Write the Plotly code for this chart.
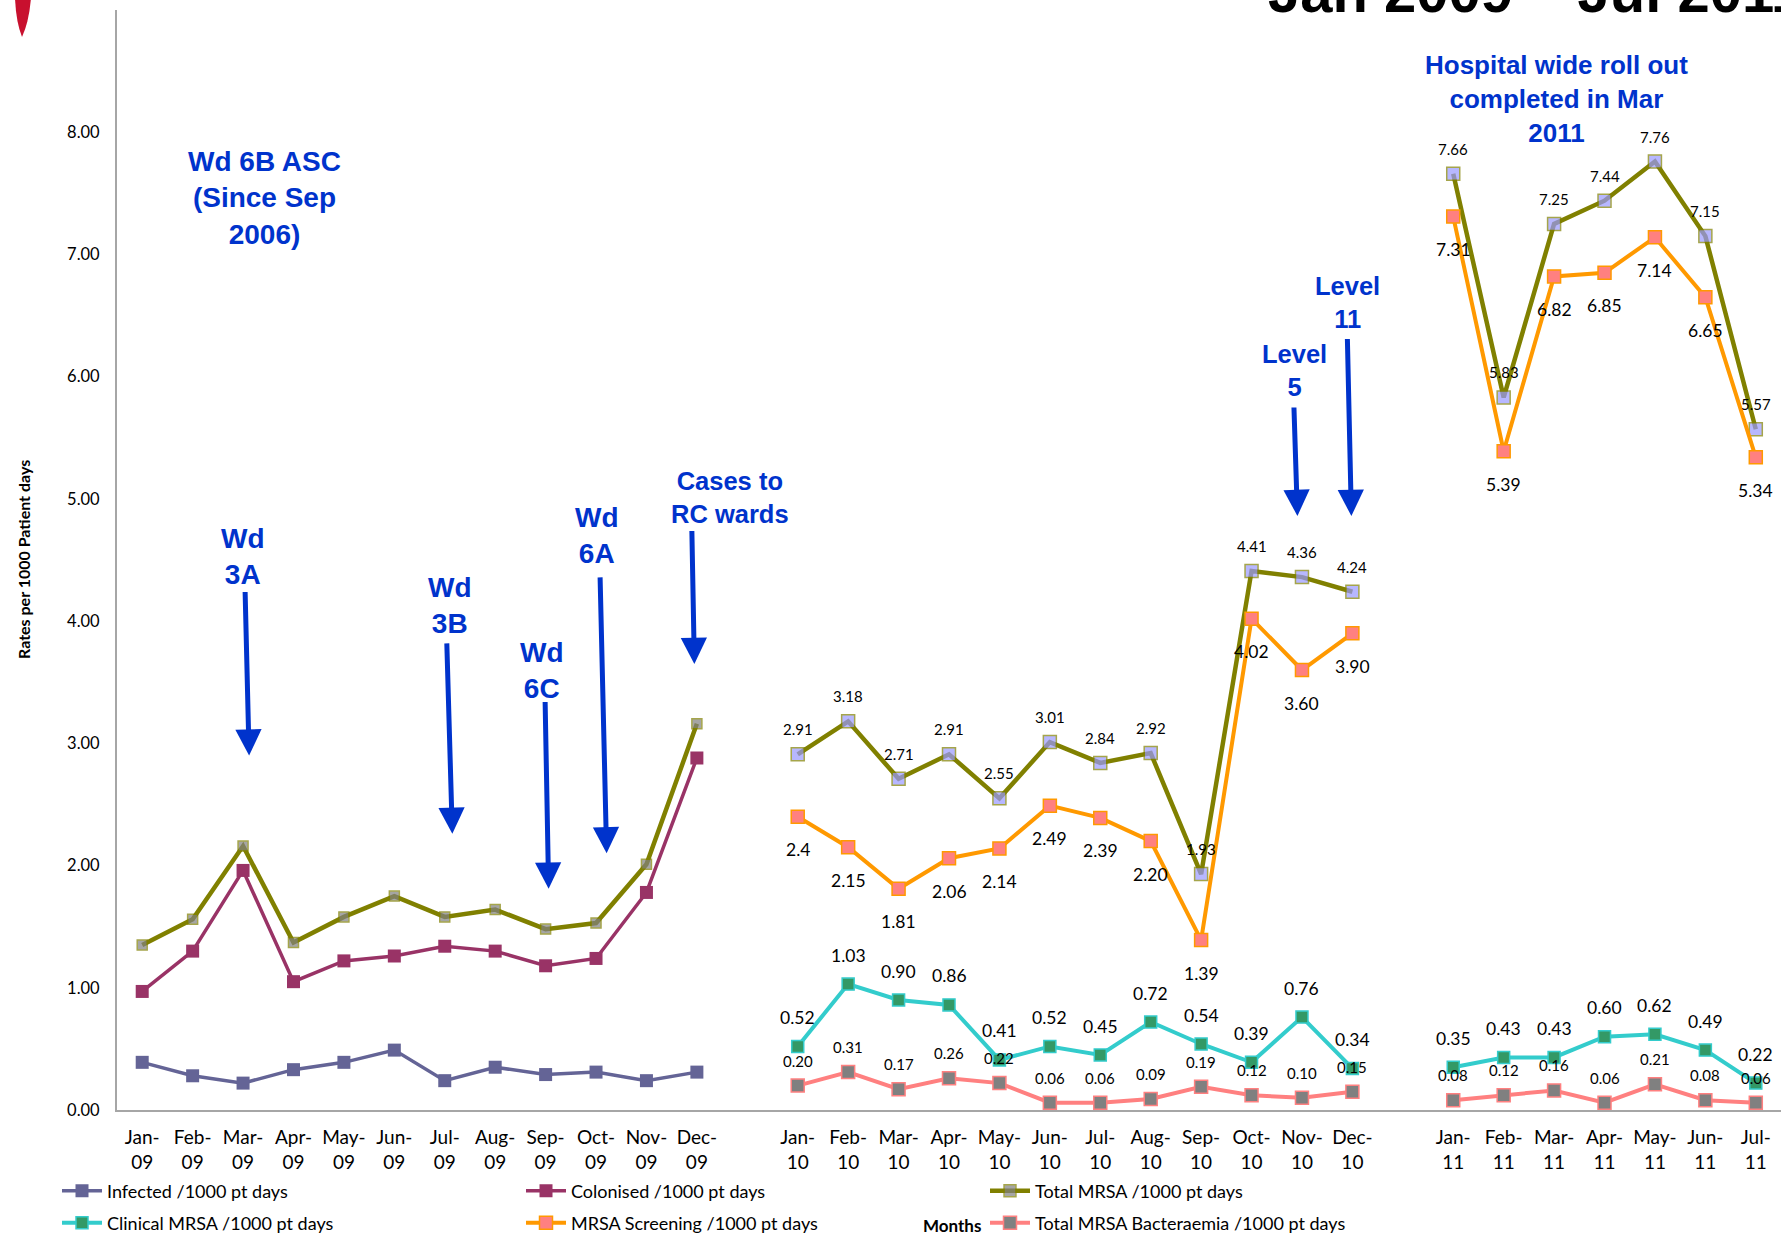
import plotly.graph_objects as go

# ---------------- data ----------------
months_2009 = ["Jan-09", "Feb-09", "Mar-09", "Apr-09", "May-09", "Jun-09",
               "Jul-09", "Aug-09", "Sep-09", "Oct-09", "Nov-09", "Dec-09"]
months_2010 = ["Jan-10", "Feb-10", "Mar-10", "Apr-10", "May-10", "Jun-10",
               "Jul-10", "Aug-10", "Sep-10", "Oct-10", "Nov-10", "Dec-10"]
months_2011 = ["Jan-11", "Feb-11", "Mar-11", "Apr-11", "May-11", "Jun-11", "Jul-11"]

infected_2009 = [0.39, 0.28, 0.22, 0.33, 0.39, 0.49, 0.24, 0.35, 0.29, 0.31, 0.24, 0.31]
colonised_2009 = [0.97, 1.30, 1.96, 1.05, 1.22, 1.26, 1.34, 1.30, 1.18, 1.24, 1.78, 2.88]
total_2009 = [1.35, 1.56, 2.16, 1.37, 1.58, 1.75, 1.58, 1.64, 1.48, 1.53, 2.01, 3.16]
total_2010 = [2.91, 3.18, 2.71, 2.91, 2.55, 3.01, 2.84, 2.92, 1.93, 4.41, 4.36, 4.24]
total_2011 = [7.66, 5.83, 7.25, 7.44, 7.76, 7.15, 5.57]
screening_2010 = [2.40, 2.15, 1.81, 2.06, 2.14, 2.49, 2.39, 2.20, 1.39, 4.02, 3.60, 3.90]
screening_2011 = [7.31, 5.39, 6.82, 6.85, 7.14, 6.65, 5.34]
clinical_2010 = [0.52, 1.03, 0.90, 0.86, 0.41, 0.52, 0.45, 0.72, 0.54, 0.39, 0.76, 0.34]
clinical_2011 = [0.35, 0.43, 0.43, 0.60, 0.62, 0.49, 0.22]
bact_2010 = [0.20, 0.31, 0.17, 0.26, 0.22, 0.06, 0.06, 0.09, 0.19, 0.12, 0.10, 0.15]
bact_2011 = [0.08, 0.12, 0.16, 0.06, 0.21, 0.08, 0.06]

label_overrides = {("screening", "Jan-10"): "2.4"}

# ---------------- helpers ----------------
categories = months_2009 + [""] + months_2010 + [""] + months_2011
xpos = list(range(len(categories)))


def span(v09=None, v10=None, v11=None):
    out = []
    out += list(v09) if v09 else [None] * len(months_2009)
    out.append(None)
    out += list(v10) if v10 else [None] * len(months_2010)
    out.append(None)
    out += list(v11) if v11 else [None] * len(months_2011)
    return out


infected = span(infected_2009)
colonised = span(colonised_2009)
total = span(total_2009, total_2010, total_2011)
clinical = span(None, clinical_2010, clinical_2011)
screening = span(None, screening_2010, screening_2011)
bact = span(None, bact_2010, bact_2011)

n09 = len(months_2009)
total_mcolor = ["#808080" if i < n09 else "#9999FF" for i in xpos]
total_msize = [10 if i < n09 else 13 for i in xpos]

FONT = "Lato, 'Open Sans', sans-serif"
BLUE = "#0033CC"


def px(xp):
    return (xp - 117) / 1664


def py(yp):
    return (1110 - yp) / 1100


fig = go.Figure()

fig.add_trace(go.Scatter(
    x=xpos, y=infected, name="Infected /1000 pt days", mode="lines+markers",
    legend="legend",
    line=dict(color="#646496", width=3.5),
    marker=dict(symbol="square", size=13, color="#646496")))
fig.add_trace(go.Scatter(
    x=xpos, y=colonised, name="Colonised /1000 pt days", mode="lines+markers",
    legend="legend",
    line=dict(color="#993366", width=3.5),
    marker=dict(symbol="square", size=13, color="#993366")))
fig.add_trace(go.Scatter(
    x=xpos, y=total, name="Total MRSA /1000 pt days", mode="lines+markers",
    legend="legend",
    line=dict(color="#808000", width=4.5),
    marker=dict(symbol="square", size=total_msize, color=total_mcolor,
                line=dict(color="#808000", width=1.5))))
fig.add_trace(go.Scatter(
    x=xpos, y=clinical, name="Clinical MRSA /1000 pt days", mode="lines+markers",
    legend="legend2",
    line=dict(color="#33CCCC", width=4),
    marker=dict(symbol="square", size=12, color="#339966",
                line=dict(color="#33CCCC", width=1.5))))
fig.add_trace(go.Scatter(
    x=xpos, y=screening, name="MRSA Screening /1000 pt days", mode="lines+markers",
    legend="legend2",
    line=dict(color="#FF9900", width=4),
    marker=dict(symbol="square", size=13, color="#FF8080",
                line=dict(color="#FF9900", width=1.5))))
fig.add_trace(go.Scatter(
    x=xpos, y=bact, name="Total MRSA Bacteraemia /1000 pt days", mode="lines+markers",
    legend="legend2",
    line=dict(color="#FF8080", width=4),
    marker=dict(symbol="square", size=13, color="#808080",
                line=dict(color="#FF8080", width=1.5))))

annotations = []

# data labels (2010 and 2011 only)
label_specs = [
    ("total", total, 25, 15),
    ("screening", screening, -33, 17.5),
    ("clinical", clinical, 29, 17.5),
    ("bact", bact, 25, 15),
]
for key, series, shift, fsize in label_specs:
    for i, v in enumerate(series):
        if v is None or i < n09:
            continue
        txt = label_overrides.get((key, categories[i]), f"{v:.2f}")
        annotations.append(dict(x=i, y=v, xref="x", yref="y", text=txt,
                                showarrow=False, yshift=shift,
                                font=dict(family=FONT, size=fsize, color="#000000")))

# blue call-out texts (x in category units, y in axis units)
callouts = [
    ("Wd 6B ASC<br>(Since Sep<br>2006)", 2.43, 7.46, 28),
    ("Wd<br>3A", 2.00, 4.53, 28),
    ("Wd<br>3B", 6.11, 4.13, 28),
    ("Wd<br>6C", 7.92, 3.60, 28),
    ("Wd<br>6A", 9.01, 4.70, 28),
    ("Cases to<br>RC wards", 11.66, 5.01, 25.5),
    ("Level<br>5", 22.85, 6.05, 25.5),
    ("Level<br>11", 23.90, 6.61, 25.5),
    ("Hospital wide roll out<br>completed in Mar<br>2011", 28.05, 8.27, 26),
]
for txt, cx, cy, fs in callouts:
    annotations.append(dict(x=cx, y=cy, xref="x", yref="y", text=txt, showarrow=False,
                            align="center", xanchor="center", yanchor="middle",
                            font=dict(family="'Liberation Sans', Arial, sans-serif",
                                      size=fs, color=BLUE, weight="bold")))

# arrows: (tail x, tail y, tip x, tip y)
arrows = [
    (2.04, 4.25, 2.12, 2.90),
    (6.04, 3.83, 6.15, 2.26),
    (7.99, 3.35, 8.06, 1.81),
    (9.08, 4.37, 9.21, 2.10),
    (10.90, 4.75, 10.95, 3.65),
    (22.84, 5.76, 22.91, 4.86),
    (23.90, 6.32, 23.98, 4.86),
]
for tx, ty, hx, hy in arrows:
    annotations.append(dict(x=hx, y=hy, ax=tx, ay=ty, xref="x", yref="y",
                            axref="x", ayref="y", text="", showarrow=True,
                            arrowhead=2, arrowsize=1.05, arrowwidth=5,
                            arrowcolor=BLUE))

# title (cut at top of page, as in the source)
annotations.append(dict(x=px(1266), y=py(26), xref="paper", yref="paper",
                        xanchor="left", yanchor="bottom", showarrow=False,
                        text="Jan 2009 \u2013 Jul 2011",
                        font=dict(family="'Liberation Sans', Arial, sans-serif", size=58,
                                  color="#000000", weight="bold")))
# y axis title
annotations.append(dict(x=px(23), y=0.5, xref="paper", yref="paper",
                        xanchor="center", yanchor="middle",
                        textangle=-90, showarrow=False,
                        text="Rates per 1000 Patient days",
                        font=dict(family=FONT, size=16, color="#000000", weight="bold")))
# x axis title
annotations.append(dict(x=px(952), y=py(1225), xref="paper", yref="paper",
                        xanchor="center", yanchor="middle",
                        showarrow=False, text="Months",
                        font=dict(family=FONT, size=17, color="#000000", weight="bold")))

# red logo fragment at top-left
logo_path = (f"M {px(15)},{py(-2)} L {px(31)},{py(-2)} "
             f"Q {px(29)},{py(22)} {px(22)},{py(37)} "
             f"Q {px(16)},{py(22)} {px(15)},{py(-2)} Z")

tick_vals = [i for i, c in enumerate(categories) if c]
tick_text = [c.replace("-", "-<br>") for c in categories if c]

legend_common = dict(orientation="h", xanchor="left", yanchor="middle",
                     entrywidth=409, entrywidthmode="pixels", itemwidth=40,
                     font=dict(family=FONT, size=18, color="#000000"),
                     bgcolor="rgba(0,0,0,0)", traceorder="normal")

fig.update_layout(
    width=1781, height=1237, autosize=False,
    margin=dict(l=117, r=0, t=10, b=127, autoexpand=False),
    paper_bgcolor="#FFFFFF", plot_bgcolor="#FFFFFF",
    font=dict(family=FONT, color="#000000"),
    showlegend=True,
    legend=dict(x=px(57), y=py(1191), **legend_common),
    legend2=dict(x=px(57), y=py(1223), **legend_common),
    xaxis=dict(range=[-0.5, len(categories) - 0.5], tickmode="array",
               tickvals=tick_vals, ticktext=tick_text,
               showline=True, linecolor="#A6A6A6", linewidth=2,
               showgrid=False, zeroline=False, ticks="",
               ticklabelstandoff=9, automargin=False,
               tickfont=dict(family=FONT, size=19, color="#000000")),
    yaxis=dict(range=[0, 9], tickmode="array", tickvals=list(range(0, 9)),
               tickformat=".2f", showline=True, linecolor="#A6A6A6", linewidth=2,
               showgrid=False, zeroline=False, ticks="",
               ticklabelstandoff=12, automargin=False,
               tickfont=dict(family=FONT, size=16.5, color="#000000")),
    annotations=annotations,
    shapes=[dict(type="path", path=logo_path, xref="paper", yref="paper",
                 fillcolor="#C8102E", line=dict(width=0), layer="above")],
)

fig.write_html("out.html")
